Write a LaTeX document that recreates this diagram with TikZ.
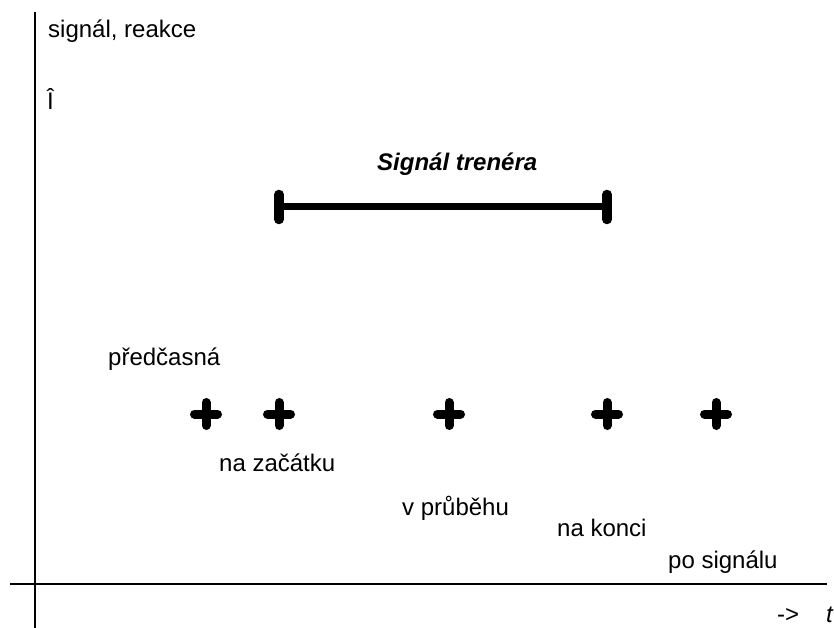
\documentclass[tikz,border=0pt]{standalone}
\usepackage{fontspec}
\setmainfont{Liberation Sans}
\begin{document}
\begin{tikzpicture}[x=1pt,y=-1pt,
  axisline/.style={line width=1.6pt,black},
  signalbar/.style={line width=7pt,black},
  endtick/.style={line width=9.5pt,black,line cap=round},
  crossarm/.style={line width=9pt,black,line cap=round},
  lbl/.style={anchor=base west,inner sep=0pt,font=\fontsize{24}{28}\selectfont},
]
\useasboundingbox (0,0) rectangle (834,628);

% axes
\coordinate (ytop) at (35,12);
\coordinate (ybot) at (35,628);
\coordinate (xleft) at (10,584);
\coordinate (xright) at (827,584);
\draw[axisline] (ytop) -- (ybot);
\draw[axisline] (xleft) -- (xright);

% axis labels
\node[lbl] (ylabel) at (48,38) {signál, reakce};
\node[lbl] (yhat) at (47,110) {Î};
\node[lbl] (xarrow) at (777,622) {->};
\node[lbl] (tlabel) at (826,622) {\itshape t};

% coach's signal interval
\coordinate (sigA) at (279,207);
\coordinate (sigB) at (607,207);
\draw[signalbar] (sigA) -- (sigB);
\draw[endtick] ([yshift=-12.5pt]sigA) -- ([yshift=12.5pt]sigA);
\draw[endtick] ([yshift=-12.5pt]sigB) -- ([yshift=12.5pt]sigB);
\node[lbl,font=\fontsize{24}{28}\selectfont\bfseries\itshape] (sigtitle) at (377,171) {Signál trenéra};

% reaction moments
\foreach \name/\px in {r1/206,r2/279,r3/449,r4/607,r5/716}{
  \coordinate (\name) at (\px,414);
  \draw[crossarm] ([xshift=-11.5pt]\name) -- ([xshift=11.5pt]\name);
  \draw[crossarm] ([yshift=-11.5pt]\name) -- ([yshift=11.5pt]\name);
}

% reaction labels
\node[lbl] (early) at (108,365) {předčasná};
\node[lbl] (start) at (219,471) {na začátku};
\node[lbl] (during) at (402,515) {v průběhu};
\node[lbl] (finish) at (557,536) {na konci};
\node[lbl] (after) at (668,568) {po signálu};
\end{tikzpicture}
\end{document}
